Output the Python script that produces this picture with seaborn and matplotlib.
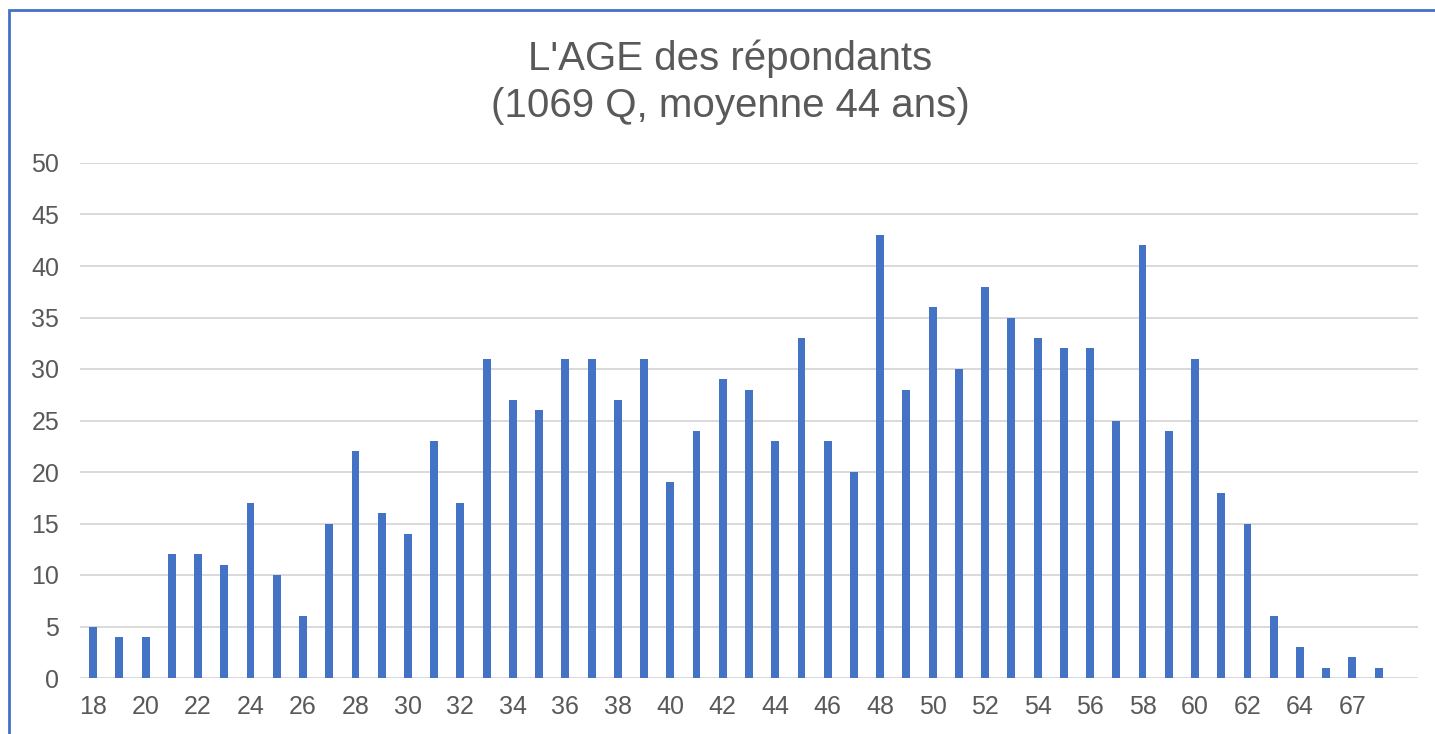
import matplotlib
matplotlib.use("Agg")
import matplotlib.pyplot as plt
import seaborn as sns
import pandas as pd
from matplotlib.patches import Rectangle

# age categories (the two unlabeled ones after 64 are guesses)
ages = [str(a) for a in range(18, 65)] + ["65", "67", "68"]
counts = [5, 4, 4, 12, 12, 11, 17, 10, 6, 15,
          22, 16, 14, 23, 17, 31, 27, 26, 31, 31,
          27, 31, 19, 24, 29, 28, 23, 33, 23, 20,
          43, 28, 36, 30, 38, 35, 33, 32, 32, 25,
          42, 24, 31, 18, 15, 6, 3, 1, 2, 1]
title = "L'AGE des répondants\n(1069 Q, moyenne 44 ans)"

df = pd.DataFrame({"age": ages, "n": counts})

sns.set_style("white")
plt.rcParams["font.family"] = ["Liberation Sans", "DejaVu Sans"]
grey = "#595959"

fig = plt.figure(figsize=(14.35, 7.34), dpi=100)
ax = fig.add_axes([80 / 1435, 56 / 734, 1338 / 1435, 515 / 734])

sns.barplot(data=df, x="age", y="n", color="#4472C4", width=0.3,
            saturation=1, linewidth=0, ax=ax, zorder=3)

ax.set_ylim(0, 50)
# Excel leaves one empty slot after the last category
ax.set_xlim(-0.5, len(ages) + 0.5)
ax.set_yticks(range(0, 51, 5))
ax.set_xticks(range(len(ages)))
ax.set_xticklabels([a if i % 2 == 0 else "" for i, a in enumerate(ages)])
ax.grid(axis="y", color="#D9D9D9", linewidth=1.4, zorder=0)
ax.set_axisbelow(True)
for s in ax.spines.values():
    s.set_visible(False)
ax.tick_params(length=0, labelsize=18, labelcolor=grey, pad=12)
ax.tick_params(axis="y", pad=15)
ax.set_xlabel("")
ax.set_ylabel("")

fig.text(730 / 1435, 1 - 82 / 734, title, ha="center", va="center",
         fontsize=29, color=grey, linespacing=1.3)

# chart border, only top and left edges visible in the crop
fig.add_artist(Rectangle((9 / 1435, -0.2), 1.2, 0.2 + 724 / 734,
                         transform=fig.transFigure, fill=False,
                         edgecolor="#4472C4", linewidth=2))

fig.savefig("out.png", dpi=100)
